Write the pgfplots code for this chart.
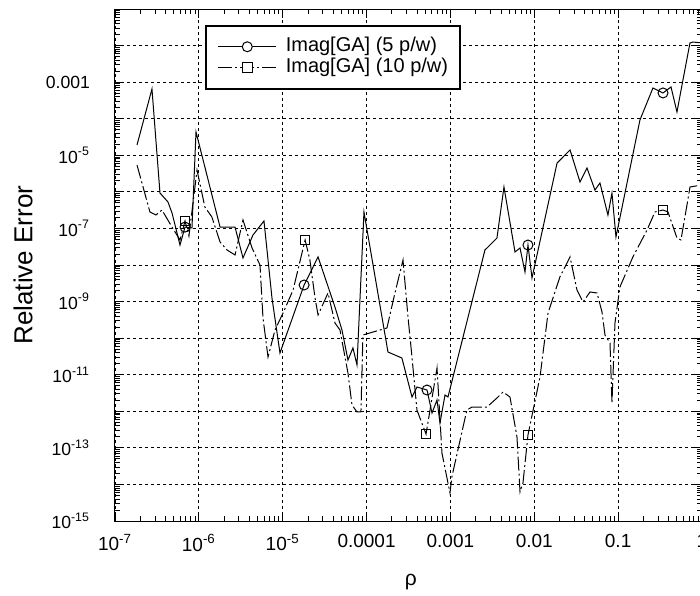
\documentclass[border=0pt]{standalone}
\usepackage{fontspec}
\setmainfont{Liberation Sans}
\usepackage{pgfplots}
\pgfplotsset{compat=1.18}
\begin{document}
\begin{tikzpicture}
\path[use as bounding box] (-57.5pt,-37pt) rectangle (292.5pt,260.5pt);
\begin{axis}[
  at={(0pt,0pt)}, anchor=south west,
  scale only axis, width=293.5pt, height=256pt,
  xmode=log, ymode=log,
  xmin=1e-7, xmax=1, ymin=1e-15, ymax=1e-1,
  xtick={1e-7,1e-6,1e-5,1e-4,1e-3,1e-2,1e-1,1},
  xticklabels={10\textsuperscript{-7},10\textsuperscript{-6},10\textsuperscript{-5},0.0001,0.001,0.01,0.1,1},
  minor xtick={2e-7,3e-7,4e-7,5e-7,6e-7,7e-7,8e-7,9e-7,
    2e-6,3e-6,4e-6,5e-6,6e-6,7e-6,8e-6,9e-6,
    2e-5,3e-5,4e-5,5e-5,6e-5,7e-5,8e-5,9e-5,
    2e-4,3e-4,4e-4,5e-4,6e-4,7e-4,8e-4,9e-4,
    2e-3,3e-3,4e-3,5e-3,6e-3,7e-3,8e-3,9e-3,
    2e-2,3e-2,4e-2,5e-2,6e-2,7e-2,8e-2,9e-2,
    0.2,0.3,0.4,0.5,0.6,0.7,0.8,0.9},
  ytick={1e-15,1e-14,1e-13,1e-12,1e-11,1e-10,1e-9,1e-8,1e-7,1e-6,1e-5,1e-4,1e-3,1e-2,1e-1},
  yticklabels={10\textsuperscript{-15},,10\textsuperscript{-13},,10\textsuperscript{-11},,10\textsuperscript{-9},,10\textsuperscript{-7},,10\textsuperscript{-5},,0.001,,},
  minor ytick={2e-15,3e-15,4e-15,5e-15,6e-15,7e-15,8e-15,9e-15,
    2e-14,3e-14,4e-14,5e-14,6e-14,7e-14,8e-14,9e-14,
    2e-13,3e-13,4e-13,5e-13,6e-13,7e-13,8e-13,9e-13,
    2e-12,3e-12,4e-12,5e-12,6e-12,7e-12,8e-12,9e-12,
    2e-11,3e-11,4e-11,5e-11,6e-11,7e-11,8e-11,9e-11,
    2e-10,3e-10,4e-10,5e-10,6e-10,7e-10,8e-10,9e-10,
    2e-9,3e-9,4e-9,5e-9,6e-9,7e-9,8e-9,9e-9,
    2e-8,3e-8,4e-8,5e-8,6e-8,7e-8,8e-8,9e-8,
    2e-7,3e-7,4e-7,5e-7,6e-7,7e-7,8e-7,9e-7,
    2e-6,3e-6,4e-6,5e-6,6e-6,7e-6,8e-6,9e-6,
    2e-5,3e-5,4e-5,5e-5,6e-5,7e-5,8e-5,9e-5,
    2e-4,3e-4,4e-4,5e-4,6e-4,7e-4,8e-4,9e-4,
    2e-3,3e-3,4e-3,5e-3,6e-3,7e-3,8e-3,9e-3,
    2e-2,3e-2,4e-2,5e-2,6e-2,7e-2,8e-2,9e-2},
  tick align=inside,
  xtick pos=both, ytick pos=both,
  major tick length=4.5pt, minor tick length=2.5pt,
  every tick/.style={black, line width=0.4pt},
  grid=major,
  major grid style={black, line width=0.45pt, dash pattern=on 1.5pt off 1.5pt},
  axis line style={line width=0.5pt},
  xticklabel style={font=\fontsize{9.5}{11}\selectfont, yshift=-3pt},
  yticklabel style={font=\fontsize{8.8}{10}\selectfont, xshift=-9pt},
  xlabel={ρ}, ylabel={Relative Error},
  every axis x label/.style={at={(axis description cs:0.504,-0.119)}, anchor=center, font=\fontsize{10.5}{12}\selectfont},
  every axis y label/.style={at={(axis description cs:-0.1567,0.5)}, rotate=90, anchor=center, font=\fontsize{13}{15}\selectfont},
  legend cell align=left,
  legend style={at={(axis description cs:0.1533,0.9688)}, anchor=north west, draw=black, line width=0.8pt, fill=white,
    font=\fontsize{10}{12}\selectfont, inner xsep=6pt, inner ysep=5.5pt,
    nodes={inner sep=0pt, text height=7.5pt, text depth=2.5pt}, row sep=0.5pt, column sep=4.5pt},
]
\addplot[black, line width=0.5pt, mark=o, mark size=2.5pt, mark options={solid, fill=white},
  mark indices={7,17,29,41,54},
  legend image code/.code={\draw[black, line width=0.5pt] (0pt,0pt) -- (29pt,0pt); \draw[black, line width=0.5pt, fill=white] (14.5pt,0pt) circle (2.5pt);}]
coordinates {
(1.83e-7,1.91e-5) (2.76e-7,6.5e-4) (3.44e-7,9.3e-7) (4.28e-7,5.3e-7) (4.79e-7,2.64e-7)
(5.96e-7,3.52e-8) (6.84e-7,1.09e-7) (8.28e-7,1.03e-7) (9.25e-7,4.34e-5) (1.79e-6,1.09e-7)
(2.70e-6,1.09e-7) (3.36e-6,1.56e-8) (4.42e-6,6.6e-8) (5.98e-6,1.6e-7) (7.45e-6,1.25e-9)
(9.28e-6,3.93e-11) (1.80e-5,2.84e-9) (2.64e-5,1.66e-8) (4.2e-5,7.1e-10) (5.09e-5,1.67e-10)
(6.0e-5,2.52e-11) (6.88e-5,5.4e-11) (7.69e-5,1.85e-11) (9.31e-5,2.82e-7) (1.80e-4,4.18e-11)
(2.64e-4,2.86e-11) (3.48e-4,2.46e-12) (3.99e-4,4.61e-12) (5.26e-4,3.82e-12) (6.03e-4,8.97e-13)
(6.92e-4,2.04e-12) (7.51e-4,4.79e-13) (8.62e-4,2.79e-12) (9.35e-4,2.46e-12) (2.58e-3,2.57e-8)
(3.59e-3,5.48e-8) (4.35e-3,1.36e-6) (5.89e-3,2.27e-8) (6.76e-3,2.92e-8) (7.75e-3,6.44e-9)
(8.41e-3,3.52e-8) (9.39e-3,4.42e-9) (1.87e-2,6.15e-6) (2.67e-2,1.40e-5) (3.51e-2,1.86e-6)
(4.25e-2,4.5e-6) (5.29e-2,1.12e-6) (6.07e-2,1.75e-6) (7.56e-2,2.33e-7) (8.44e-2,9.3e-7)
(9.42e-2,5.83e-8) (0.182,9.22e-5) (0.260,6.92e-4) (0.343,5.06e-4) (0.427,7.38e-4)
(0.503,1.53e-4) (0.593,1.15e-3) (0.719,1.18e-2) (0.780,1.25e-2) (1.0,1.18e-2)
};
\addlegendentry{Imag[GA] (5 p/w)}
\addplot[black, line width=0.5pt, dash pattern=on 7pt off 1.5pt on 1pt off 1.5pt,
  mark=square, mark size=2.4pt, mark options={solid, fill=white},
  mark indices={7,23,41,55,73},
  legend image code/.code={\draw[black, line width=0.5pt, dash pattern=on 7pt off 1.5pt on 1pt off 1.5pt] (0pt,0pt) -- (29pt,0pt); \draw[black, solid, line width=0.5pt, fill=white] (12.1pt,-2.4pt) rectangle (16.9pt,2.4pt);}]
coordinates {
(1.83e-7,5.43e-6) (2.61e-7,2.82e-7) (3.08e-7,2.33e-7) (3.63e-7,3.19e-7) (4.79e-7,1.09e-7)
(5.96e-7,4.83e-8) (6.84e-7,1.6e-7) (7.62e-7,6.2e-8) (9.51e-7,3.96e-6) (1.18e-6,3.85e-7)
(1.43e-6,2.06e-7) (1.79e-6,4.26e-8) (2.17e-6,2.57e-8) (2.70e-6,1.88e-8) (3.36e-6,1.70e-7)
(4.31e-6,2.92e-8) (5.36e-6,1.0e-8) (5.82e-6,3.56e-10) (6.68e-6,3.05e-11) (8.09e-6,1.67e-10)
(1.01e-5,4.88e-10) (1.33e-5,2.07e-9) (1.85e-5,4.83e-8) (2.11e-5,1.37e-8) (2.43e-5,1.25e-9)
(2.64e-5,4.3e-10) (3.47e-5,1.72e-9) (4.2e-5,2.6e-10) (4.82e-5,1.67e-10) (6.0e-5,1.11e-11)
(6.7e-5,1.49e-12) (7.69e-5,9.57e-13) (8.57e-5,9.57e-13) (9.05e-5,1.22e-10) (1.75e-4,1.90e-10)
(2.18e-4,1.72e-9) (2.72e-4,1.37e-8) (3.12e-4,3.78e-10) (3.48e-4,3.05e-11) (3.99e-4,1.08e-12)
(5.12e-4,2.39e-13) (6.92e-4,1.53e-11) (7.93e-4,7.2e-14) (9.88e-4,5.84e-15) (1.04e-3,1.6e-14)
(1.57e-3,1.08e-12) (1.81e-3,1.31e-12) (2.73e-3,1.31e-12) (3.59e-3,2.31e-12) (4.24e-3,3.37e-12)
(5.13e-3,2.46e-12) (6.22e-3,1.98e-13) (6.76e-3,6.2e-15) (7.33e-3,1.09e-14) (8.41e-3,2.25e-13)
(1.17e-2,8.67e-12) (1.46e-2,4.88e-10) (2.02e-2,4.7e-9) (2.67e-2,1.66e-8) (3.23e-2,2.07e-9)
(3.81e-2,9.72e-10) (4.62e-2,1.83e-9) (5.6e-2,1.72e-9) (6.42e-2,5.19e-10) (6.97e-2,1.22e-10)
(8.0e-2,7.36e-11) (8.44e-2,1.69e-12) (9.17e-2,2.6e-10) (0.105,2.51e-9) (0.150,1.66e-8)
(0.221,9.06e-8) (0.275,2.82e-7) (0.343,3.19e-7) (0.393,2.82e-7) (0.503,5.48e-8)
(0.561,4.83e-8) (0.662,4.38e-7) (0.719,1.36e-6) (1.0,1.54e-6)
};
\addlegendentry{Imag[GA] (10 p/w)}
\end{axis}
\end{tikzpicture}
\end{document}
